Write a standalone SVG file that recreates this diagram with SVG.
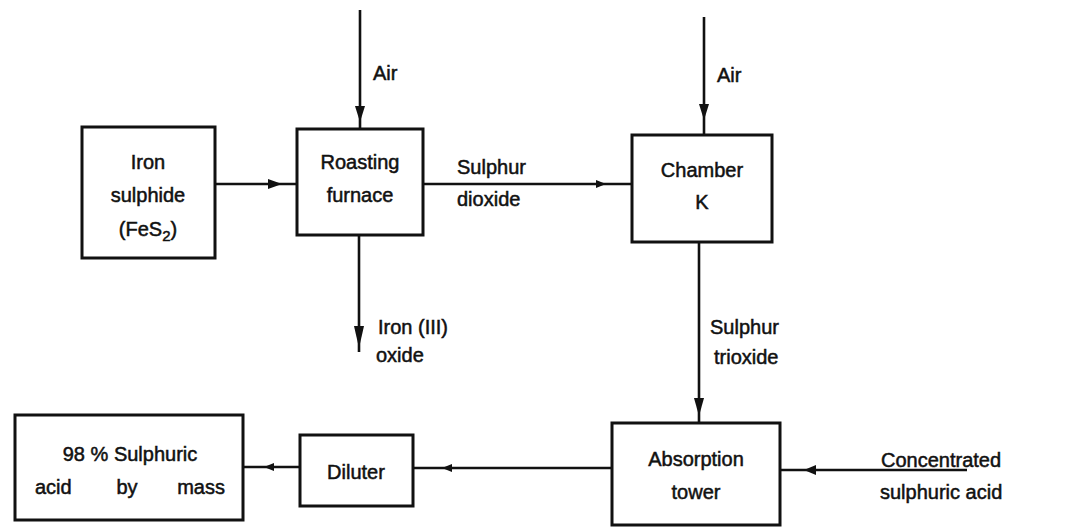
<svg xmlns="http://www.w3.org/2000/svg" width="1070" height="529" viewBox="0 0 1070 529">
<style>
.box{fill:none;stroke:#111;stroke-width:3}
.ln{fill:none;stroke:#111;stroke-width:2.6}
.ah{fill:#111}
text{font-family:"Liberation Sans",Arial,sans-serif;font-size:20px;fill:#111;stroke:#111;stroke-width:0.5}
.c{text-anchor:middle}
</style>
<rect width="1070" height="529" fill="#fff"/>
<g id="connectors">
<path class="ln" d="M215 184 H297"/><path class="ah" d="M282 184 l-14 -5 v10 z"/>
<path class="ln" d="M360 10 V129"/><path class="ah" d="M360 122 l-5 -16 h10 z"/>
<path class="ln" d="M423 184 H632"/><path class="ah" d="M606 184 l-10 -4 v8 z"/>
<path class="ln" d="M704 17 V135"/><path class="ah" d="M704 120 l-5 -16 h10 z"/>
<path class="ln" d="M359 235 V352"/><path class="ah" d="M359 348 l-5 -22 h10 z"/>
<path class="ln" d="M699 242 V423"/><path class="ah" d="M699 416 l-5 -18 h10 z"/>
<path class="ln" d="M780 470 H967"/><path class="ah" d="M804 470 l12 -5 v10 z"/>
<path class="ln" d="M612 468 H413"/><path class="ah" d="M442 468 l10 -4 v8 z"/>
<path class="ln" d="M300 467 H243"/><path class="ah" d="M264 467 l10 -4 v8 z"/>
</g>
<g id="iron-sulphide"><rect class="box" x="82" y="127" width="133" height="131"/>
<text class="c" x="148" y="169">Iron</text><text class="c" x="148" y="202">sulphide</text><text class="c" x="148" y="236">(FeS<tspan font-size="15" dy="5">2</tspan><tspan dy="-5">)</tspan></text></g>
<g id="roasting-furnace"><rect class="box" x="297" y="129" width="126" height="106"/>
<text class="c" x="360" y="169">Roasting</text><text class="c" x="360" y="202">furnace</text></g>
<g id="chamber"><rect class="box" x="632" y="135" width="140" height="107"/>
<text class="c" x="702" y="177">Chamber</text><text class="c" x="702" y="209">K</text></g>
<g id="absorption-tower"><rect class="box" x="612" y="423" width="168" height="102"/>
<text class="c" x="696" y="466">Absorption</text><text class="c" x="696" y="499">tower</text></g>
<g id="diluter"><rect class="box" x="300" y="435" width="113" height="71"/>
<text class="c" x="356" y="479">Diluter</text></g>
<g id="sulphuric-98"><rect class="box" x="15" y="415" width="228" height="105"/>
<text class="c" x="130" y="461">98 % Sulphuric</text><text x="35" y="494">acid</text><text class="c" x="127" y="494">by</text><text x="225" y="494" text-anchor="end">mass</text></g>
<g id="labels">
<text x="373" y="80">Air</text>
<text x="717" y="82">Air</text>
<text x="457" y="174">Sulphur</text><text x="457" y="206">dioxide</text>
<text x="378" y="334">Iron (III)</text><text x="376" y="362">oxide</text>
<text x="710" y="334">Sulphur</text><text x="714" y="364">trioxide</text>
<text x="881" y="467">Concentrated</text><text x="880" y="499">sulphuric acid</text>
</g>
</svg>
